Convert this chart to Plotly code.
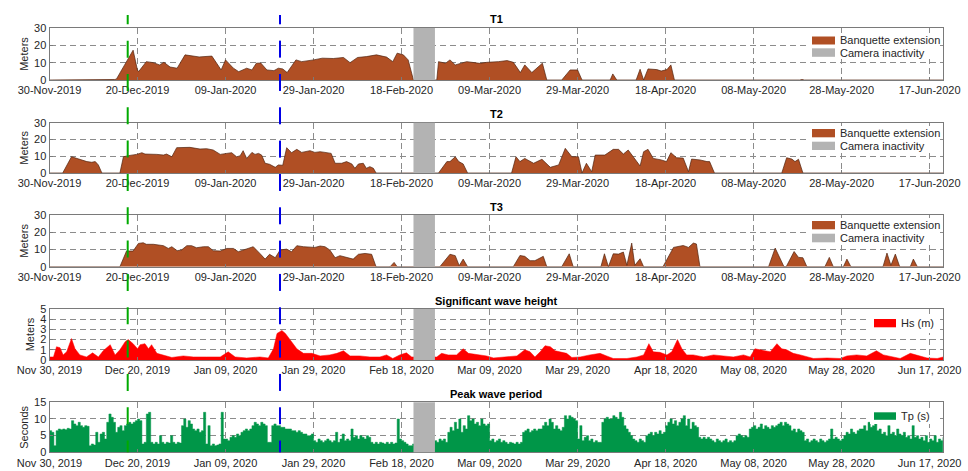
import pandas as pd
import plotly.graph_objects as go

# ---------------- data ----------------
START = pd.Timestamp("2019-11-30")
END = pd.Timestamp("2020-06-20 02:24")
tick_dates = ["2019-11-30", "2019-12-20", "2020-01-09", "2020-01-29", "2020-02-18",
              "2020-03-09", "2020-03-29", "2020-04-18", "2020-05-08", "2020-05-28", "2020-06-17"]

cam_off_start = "2020-02-20 17:00"
cam_off_end = "2020-02-25 14:00"
event_green = "2019-12-17 18:30"
event_blue = "2020-01-21 09:00"

# banquette extension (m), day offsets from 30-Nov-2019
t1_day = [0, 11, 11.6, 14.8, 15.2, 19, 20, 20.3, 22, 23.6, 25, 26, 27.4, 29, 30.8, 32, 34, 36.9, 39, 40,
          41.8, 43, 44.8, 46, 47, 48, 49.4, 51, 52, 53, 54, 56, 57.3, 60, 62, 64.5, 66.8, 68.3, 70, 72,
          74.3, 76.6, 78, 79, 80.4, 81.5, 82.7, 88, 88.4, 90, 91, 92.2, 94.8, 97.8, 99.4, 102, 104, 105.4,
          107, 108, 109.6, 112, 113, 116.4, 118.3, 120, 121, 127.4, 128, 128.9, 133.3, 134.2, 135, 136,
          138, 139, 140.3, 141.2, 142, 170.5, 171, 171.5, 203.1]
t1_val = [0, 0, 0.4, 0.3, 0.5, 17.2, 5.5, 5, 10.6, 10, 8.7, 10.2, 7.5, 6.8, 14.5, 14, 13.3, 13.8, 5.8, 11.6,
          6.8, 4.8, 6.8, 5.8, 9.7, 9.8, 5.8, 5.4, 6.8, 6.4, 4.3, 11.6, 10.6, 11.6, 12.6, 12.4, 13, 10, 13, 13.5,
          14.5, 13.2, 10.6, 15.5, 14.5, 11.6, 0, 0, 10.6, 9.7, 11.6, 8.7, 10.6, 9.6, 10.2, 10.6, 11.2, 10.2,
          4.3, 8.7, 4.3, 9.7, 0, 0, 5.8, 5.8, 0, 0, 3.5, 0, 0, 6.2, 0, 6.4,
          6, 5.2, 6, 8.7, 0, 0, 0.3, 0, 0]

t2_day = [0, 3, 5, 7, 8.5, 9.6, 10.4, 11.1, 11.9, 16, 16.8, 18.3, 19.8, 21, 21.7, 24.4, 25.9, 26.6, 27.8,
          28.9, 31.9, 34.2, 35.7, 37.2, 38.8, 40.3, 41.4, 42.5, 43.3, 44, 44.8, 46, 46.7, 47.5, 48.2, 49, 50,
          51.3, 52, 53, 53.9, 55, 56.2, 57.3, 59.2, 60.3, 61.5, 62.6, 64, 64.9, 66.4, 67.5, 68.7, 69.4, 70.2,
          71.3, 72, 72.8, 73.6, 74.2, 88.4, 90.3, 91, 92.2, 93, 94, 95, 105, 106, 106.9, 108, 110, 111.9,
          113.8, 115.7, 117.2, 118.7, 120.2, 121, 122, 123.2, 124, 126.2, 128.1, 129.3, 130.4, 131.5, 134.2,
          135, 136, 137.2, 139, 140.2, 141.2, 142.5, 144, 145.2, 145.9, 147.8, 149.4, 150, 151.1, 166.4,
          167.5, 168.7, 169.4, 170.2, 171.2, 203.1]
t2_val = [0, 0, 9.7, 7.8, 6.8, 6.4, 6.8, 4.8, 0, 0, 9.7, 10.5, 11.1, 12.1, 11.3, 11.1, 10.7, 11.3, 9.7,
          15.1, 15.3, 14.3, 14.5, 13.7, 11.1, 11.7, 12.1, 9.7, 10.2, 13.3, 8.7, 12.3, 11.1, 11.7, 10.7, 5.8, 5.2,
          3.4, 4.8, 4.6, 15.1, 12.1, 14.1, 12.3, 13.3, 12.3, 12.7, 12.3, 11.7, 5.8, 5.8, 6.8, 5.4, 2.8, 5.4,
          5.8, 2.8, 3.8, 2.8, 0, 0, 6.8, 6.8, 9.7, 6.8, 5.4, 0, 0, 9.7, 6.8, 8.7, 5.8, 8.2,
          3.4, 4.8, 14.7, 9.7, 9.7, 0, 5.8, 0.8, 10.7, 10.7, 14.1, 14.1, 11.3, 13.7, 4.2,
          12.7, 14.1, 8.7, 7.8, 6.8, 12.1, 9.1, 8.9, 0.8, 8.3, 7.8, 6.8, 6.8, 0, 0,
          9.1, 8.3, 6.8, 8.2, 0, 0]

t3_day = [0, 16, 17.5, 19, 20.2, 21.3, 22, 23.6, 25.9, 27, 27.8, 29, 30, 31.2, 32.3, 33.4, 35, 36.1, 37.2,
          38.8, 40.3, 41.8, 42.9, 44.8, 46.3, 47.8, 49, 50, 51.3, 52.4, 53.9, 55, 56.2, 57.7, 59.2, 60.3, 61.5,
          62.6, 63.7, 64.9, 66, 67.5, 69, 70.2, 71.7, 73.2, 74.2, 77.4, 78.3, 79, 88.7, 91, 92.2, 93.1, 94, 95,
          105.4, 106.9, 108, 109.2, 110.3, 112.2, 113, 116.4, 118.1, 119, 125.3, 126.1, 127, 128.1, 129.3,
          130.4, 131.2, 132.3, 133, 134.2, 135, 139.4, 141.8, 144, 145.2, 146.3, 147, 147.8, 163.4, 164.9,
          166.9, 167.4, 169.2, 170.2, 171.2, 172.1, 176.2, 177.2, 178.1, 180.4, 181.2, 182.1, 189.4, 190.3,
          191.2, 192.2, 193.2, 195.6, 196.3, 197.2, 203.1]
t3_val = [0, 0, 9.1, 9.1, 13.5, 13.9, 13, 13, 12.2, 10.6, 11.6, 9.3, 9.7, 12.2, 12.2, 11, 11.6, 11.6, 9.3,
          9.1, 10.6, 10.6, 8.7, 10.2, 11.6, 7.7, 4.4, 7.2, 5.2, 9.7, 10.2, 8.7, 12.2, 11.6, 11.2, 11.2, 12,
          11.6, 9.7, 5.2, 6.4, 5.6, 4.4, 7.2, 7.7, 7.2, 0, 0, 2.5, 0, 0, 7.2, 6.4, 0.6, 4.4, 0,
          0, 6.5, 6, 3.5, 3.5, 6, 0, 0, 7.5, 0, 0, 7.5, 0, 7.5, 7.3,
          8.5, 0.8, 13.7, 0.8, 4.6, 0, 0, 11.2, 12.3, 11.2, 13.7, 13.2, 0, 0, 10.8,
          0, 0, 8.8, 5.4, 5.2, 0, 0, 5.4, 0, 0, 4.4, 0, 0, 7.9,
          0.8, 7.3, 0, 0, 4.4, 0, 0]

# significant wave height (m)
hs_day = [0, 0.9, 1.6, 2.4, 3.1, 3.9, 5, 5.8, 6.9, 8.4, 9.8, 11.1, 12.2, 13.8, 14.9, 16, 17.2, 17.9, 19, 20,
          20.6, 21.7, 22.5, 23.2, 24.4, 25.9, 27.8, 30.4, 32.7, 35.7, 38.8, 40.6, 42.2, 44.8, 47.8, 49.7, 50.9,
          51.7, 52.8, 53.6, 54.7, 56.2, 57.7, 59.6, 61.5, 63.7, 65.3, 66.8, 68.3, 70.5, 72.8, 75.1, 76.6, 78,
          79.6, 81.1, 82.3, 85, 88, 89.1, 90.6, 92.5, 94, 95.2, 97.1, 99.3, 100.9, 104, 106.2, 108, 109.2,
          110.3, 111.5, 112.6, 113.8, 114.9, 116, 117.5, 118.7, 120.6, 122.8, 125.1, 126.6, 128.1, 131.2,
          133.5, 135, 136.2, 137.2, 138.7, 140.3, 141.4, 142.7, 143.7, 144.8, 146.3, 148.6, 150.9, 153.1,
          155.4, 157.7, 159.2, 160.3, 161.8, 163.8, 165.3, 166.4, 167.5, 169, 170.6, 172.4, 173.6, 176.7,
          179.7, 181.2, 183.4, 185.7, 187.9, 189.5, 191.8, 193.3, 195.6, 197.1, 199.4, 201.7, 203.1]
hs_val = [0.3, 0.3, 1.3, 1.2, 0.5, 0.8, 2.1, 1.1, 0.5, 0.3, 0.7, 0.3, 0.9, 1.5, 0.5, 1.0, 1.8, 2.0, 1.6, 1.1,
          1.5, 1.6, 1.1, 1.5, 0.65, 0.5, 0.25, 0.4, 0.3, 0.3, 0.3, 0.8, 0.3, 0.2, 0.3, 0.2, 1.1,
          2.6, 2.9, 2.6, 2.0, 1.1, 0.65, 0.65, 0.4, 0.5, 0.65, 0.9, 0.4, 0.4, 0.3, 0.3, 0.5, 0.15,
          0.5, 0.7, 0.3, 0.3, 0.3, 0.65, 0.5, 0.5, 1.1, 0.65, 0.55, 0.4, 0.2, 0.3, 0.4, 1.0, 0.8,
          0.3, 0.8, 1.4, 1.3, 0.9, 0.8, 0.65, 0.25, 0.3, 0.5, 0.65, 0.4, 0.15, 0.15,
          0.3, 0.5, 1.6, 0.8, 0.75, 0.5, 0.8, 2.0, 1.1, 0.5, 0.5, 0.3, 0.5, 0.4,
          0.3, 0.5, 0.3, 1.1, 1.0, 0.8, 1.6, 1.1, 1.0, 0.65, 0.5, 0.3, 0.15, 0.2,
          0.15, 0.4, 0.5, 0.4, 0.9, 0.5, 0.3, 0.15, 0.65, 0.5, 0.2, 0.15, 0.3]

# peak wave period (s), 12-hourly from 30-Nov-2019
tp_val = [6.5, 6.0, 2.0, 6.5,
          7.0, 6.8, 7.0, 6.8, 7.2, 7.0,
          9.5, 8.5, 8.0, 9.0,
          8.0, 7.5, 8.0, 7.8,
          2.0, 2.5, 2.2, 6.0,
          3.0, 5.5, 6.0, 4.0,
          9.0, 11.5, 10.5, 9.0,
          6.0, 7.5, 8.0, 6.5,
          8.0, 8.5, 9.0, 8.5, 9.0, 9.5,
          10.0, 9.5, 2.5, 3.0,
          11.5, 12.0, 3.0, 2.5,
          3.0, 2.5, 5.0, 3.0, 2.5, 3.0, 2.8, 5.0, 3.0, 2.5, 3.0, 2.8,
          8.0, 10.0, 7.5, 9.5, 8.5, 7.0,
          6.5, 7.0, 6.0, 6.5,
          12.0, 2.5, 8.0, 2.0, 2.5, 2.0, 2.2, 2.5, 12.0, 4.0,
          4.0, 3.5, 4.5, 5.0, 4.5, 5.5, 5.0, 6.0, 6.5, 7.0, 6.5, 7.0,
          8.0, 9.0, 8.5, 8.0, 9.0, 8.5, 8.0,
          3.0, 3.0, 8.0,
          8.5, 8.0, 8.0, 7.5, 7.5, 7.0, 7.0, 7.0, 6.5, 6.5, 6.0, 6.5, 6.0, 5.5, 5.5, 5.0, 5.0, 5.5,
          3.5, 3.0, 4.0, 3.5, 3.0, 3.5, 4.0, 3.5, 3.0,
          3.5, 6.0, 3.0, 4.0, 5.5, 3.5, 4.0, 3.5, 7.0,
          4.5, 5.0, 4.0, 5.0, 4.5, 4.0, 5.0, 4.5, 3.0,
          2.5, 3.0, 2.5, 3.0, 2.8, 2.5, 3.0, 2.5, 3.0, 2.5, 2.8,
          10.0, 4.0, 3.5, 3.0, 2.5, 2.0, 2.0,
          2.5, 2.5, 2.5, 2.5, 2.5, 2.5, 2.5, 2.5, 2.5, 2.5,
          3.5, 3.0, 4.0, 3.5, 4.0, 3.0,
          6.0, 7.5, 6.5, 9.0, 7.0, 10.0, 6.0, 8.0, 7.0,
          11.0, 9.5, 10.0, 8.5, 9.0, 8.0, 10.0, 8.5, 8.0, 8.5,
          3.5, 4.0, 3.0, 3.5, 4.0, 3.0, 3.5, 3.0,
          2.5, 3.0, 2.8, 2.5, 3.0, 2.5, 3.0,
          6.0, 6.5, 7.0, 6.0, 6.5, 7.0, 6.5, 7.0,
          7.0, 8.0, 9.0, 8.0, 10.0, 9.0, 7.0, 8.0,
          7.0, 6.5, 7.5, 11.0,
          10.0, 11.0, 10.5, 10.0, 9.5,
          4.0, 8.0, 3.5, 4.5, 5.0, 3.5, 4.0, 3.0, 3.5, 3.0, 3.0,
          9.0, 10.0, 10.5, 10.0, 10.0, 11.0, 10.5, 10.0, 12.0, 10.5,
          8.0, 7.0, 6.0, 5.0, 4.0,
          3.5, 3.0, 4.0, 3.5, 3.0,
          5.0, 5.5, 6.0, 5.0, 6.0, 5.5, 6.5, 5.5, 6.0,
          8.0, 9.0, 10.0, 8.5, 9.5, 8.0, 9.0, 10.0,
          11.0, 8.0, 10.0, 7.0, 9.0, 8.0, 7.5,
          4.5, 4.0, 4.5, 4.0, 4.5, 4.0,
          3.5, 3.0, 4.0, 3.5, 3.0, 3.5, 4.0, 3.0, 3.5, 3.0, 3.5,
          5.0, 5.5, 5.0, 4.5, 5.0, 4.5,
          7.0, 7.5, 8.0, 7.0, 7.5, 8.5, 7.0, 8.0, 7.5, 7.0, 8.0, 7.5, 8.0,
          8.5, 9.0, 8.0, 9.0, 8.5, 8.0,
          6.5, 7.0, 6.0, 7.0, 6.5, 6.0,
          3.5, 4.0, 3.0, 3.5, 4.0, 3.5, 3.0, 4.0, 3.5, 3.0, 3.5, 4.0, 7.0,
          4.0, 4.5, 4.0, 3.5, 4.0,
          5.0, 6.0, 5.5, 7.0, 6.0, 5.5, 6.5, 7.0,
          7.0, 8.0, 6.5, 9.0, 7.5, 8.0, 9.0, 6.5, 7.0,
          5.5, 6.0, 5.0, 8.0, 5.5, 6.0, 5.0, 7.0, 5.5, 5.0, 6.0,
          4.5, 5.0, 4.0, 8.0, 4.5, 5.0, 4.0, 4.5,
          3.5, 5.0, 3.0, 4.0, 3.5, 5.0, 3.0, 4.0, 3.5, 4.5]

# ---------------- styling ----------------
W, H = 968, 471
FONT = "Liberation Sans, Arial, sans-serif"
BROWN = "rgb(176,79,36)"
BROWN_EDGE = "rgb(80,35,15)"
RED = "#FF0000"
GREEN = "rgb(0,150,72)"
GRAY = "rgb(179,179,179)"
AXC = "#7a7a7a"
TXT = "#262626"


def px(x):
    return x / W


def py(y):
    return 1 - y / H


def to_dates(days):
    return START + pd.to_timedelta(pd.Series(days, dtype=float), unit="D")


XDOM = [px(49.5), px(943.3)]
# (top, bottom) pixel rows of each panel
panels = [(28, 80), (122.7, 173), (215, 266.7), (309, 360), (402.3, 452.3)]

fig = go.Figure()

series = [
    (to_dates(t1_day), t1_val, BROWN, "Banquette extension", "linear"),
    (to_dates(t2_day), t2_val, BROWN, "Banquette extension", "linear"),
    (to_dates(t3_day), t3_val, BROWN, "Banquette extension", "linear"),
    (to_dates(hs_day), hs_val, RED, "Hs (m)", "linear"),
    (pd.date_range(START, periods=len(tp_val), freq="12h"), tp_val, GREEN, "Tp (s)", "hv"),
]

for i, (x, y, col, name, shape) in enumerate(series):
    ax = "" if i == 0 else str(i + 1)
    edge = BROWN_EDGE if col == BROWN else col
    fig.add_trace(go.Scatter(
        x=x, y=y, mode="lines", fill="tozeroy", fillcolor=col, name=name,
        line=dict(color=edge, width=0.7 if col == BROWN else 0.5, shape=shape),
        xaxis="x" + ax, yaxis="y" + ax, showlegend=False, hoverinfo="skip"))

yranges = [[0, 30], [0, 30], [0, 30], [0, 5], [0, 15]]
ydticks = [10, 10, 10, 1, 5]
ytitles = ["Meters", "Meters", "Meters", "Meters", "Seconds"]
xfmts = ["%d-%b-%Y"] * 3 + ["%b %d, %Y"] * 2

layout = dict(
    width=W, height=H, margin=dict(l=0, r=0, t=0, b=0, autoexpand=False),
    paper_bgcolor="white", plot_bgcolor="white",
    font=dict(family=FONT, size=11, color=TXT),
    showlegend=False,
)

for i, (top, bot) in enumerate(panels):
    ax = "" if i == 0 else str(i + 1)
    layout["xaxis" + ax] = dict(
        domain=XDOM, anchor="y" + ax, range=[START, END], type="date",
        tickvals=tick_dates, tickformat=xfmts[i], automargin=False,
        showline=True, mirror=True, linecolor=AXC, linewidth=1,
        ticks="inside", ticklen=3, tickcolor=AXC,
        showgrid=True, gridcolor="#8c8c8c", griddash="6px,4px", gridwidth=1,
        tickfont=dict(size=11, color=TXT), zeroline=False, fixedrange=True)
    layout["yaxis" + ax] = dict(
        domain=[py(bot), py(top)], anchor="x" + ax, range=yranges[i],
        dtick=ydticks[i], tick0=0, automargin=False,
        showline=True, mirror=True, linecolor=AXC, linewidth=1,
        ticks="inside", ticklen=3, tickcolor=AXC,
        showgrid=True, gridcolor="#8c8c8c", griddash="6px,4px", gridwidth=1,
        tickfont=dict(size=11, color=TXT), zeroline=False, fixedrange=True,
        title=dict(text=ytitles[i], font=dict(size=11, color=TXT), standoff=3))

fig.update_layout(**layout)

shapes = []
annotations = []

# camera inactivity bands
for i in range(5):
    ax = "" if i == 0 else str(i + 1)
    shapes.append(dict(type="rect", xref="x" + ax, yref="y" + ax + " domain",
                       x0=cam_off_start, x1=cam_off_end, y0=0, y1=1,
                       fillcolor=GRAY, line=dict(width=0), layer="above"))

# panel titles
titles = [("T1", 19.5), ("T2", 114), ("T3", 206.5), ("Significant wave height", 300.5), ("Peak wave period", 394)]
for txt, ypix in titles:
    annotations.append(dict(text="<b>" + txt + "</b>", x=(XDOM[0] + XDOM[1]) / 2, y=py(ypix),
                            xref="paper", yref="paper", showarrow=False,
                            xanchor="center", yanchor="middle",
                            font=dict(size=11, color="black", family=FONT)))

# legends (drawn manually to match the swatches)
def legend(entries, box):
    bx0, by0, bx1, by1 = box
    shapes.append(dict(type="rect", xref="paper", yref="paper",
                       x0=px(bx0), x1=px(bx1), y0=py(by1), y1=py(by0),
                       fillcolor="white", line=dict(width=0), layer="above"))
    for label, col, sx0, sx1, sy0, sy1 in entries:
        shapes.append(dict(type="rect", xref="paper", yref="paper",
                           x0=px(sx0), x1=px(sx1), y0=py(sy1), y1=py(sy0),
                           fillcolor=col, line=dict(width=0), layer="above"))
        annotations.append(dict(text=label, x=px(sx1 + 2.5), y=py((sy0 + sy1) / 2),
                                xref="paper", yref="paper", showarrow=False,
                                xanchor="left", yanchor="middle",
                                font=dict(size=11, color=TXT, family=FONT)))

legend([("Banquette extension", BROWN, 812, 835, 36.5, 44.5),
        ("Camera inactivity", GRAY, 812, 835, 48.3, 56.8)], (808, 33, 938, 59))
legend([("Banquette extension", BROWN, 812, 835, 129, 137.3),
        ("Camera inactivity", GRAY, 812, 835, 141.7, 150)], (808, 126, 938, 153))
legend([("Banquette extension", BROWN, 812, 835, 221, 229.3),
        ("Camera inactivity", GRAY, 812, 835, 233.7, 242.3)], (808, 218, 938, 245))
legend([("Hs (m)", RED, 874, 896, 319, 327.3)], (870, 314, 938, 333))
legend([("Tp (s)", GREEN, 874, 896, 412.3, 419.8)], (870, 408, 938, 424))

# event markers: long-dashed vertical lines through all panels
for ev, col in [(event_green, "rgb(0,170,0)"), (event_blue, "rgb(0,0,230)")]:
    k = 0
    while True:
        a = 7.3 + 33.33 * k
        b = a + 17
        if a > 452.3:
            break
        y0, y1 = max(a, 15), min(b, 452.3)
        if y1 > y0:
            shapes.append(dict(type="line", xref="x", yref="paper", x0=ev, x1=ev,
                               y0=py(y1), y1=py(y0), line=dict(color=col, width=2), layer="above"))
        k += 1

fig.update_layout(shapes=shapes, annotations=annotations)
fig.write_html("out.html", config={"displayModeBar": False},
               post_script="document.body.style.margin='0px';document.body.style.overflow='hidden';")
